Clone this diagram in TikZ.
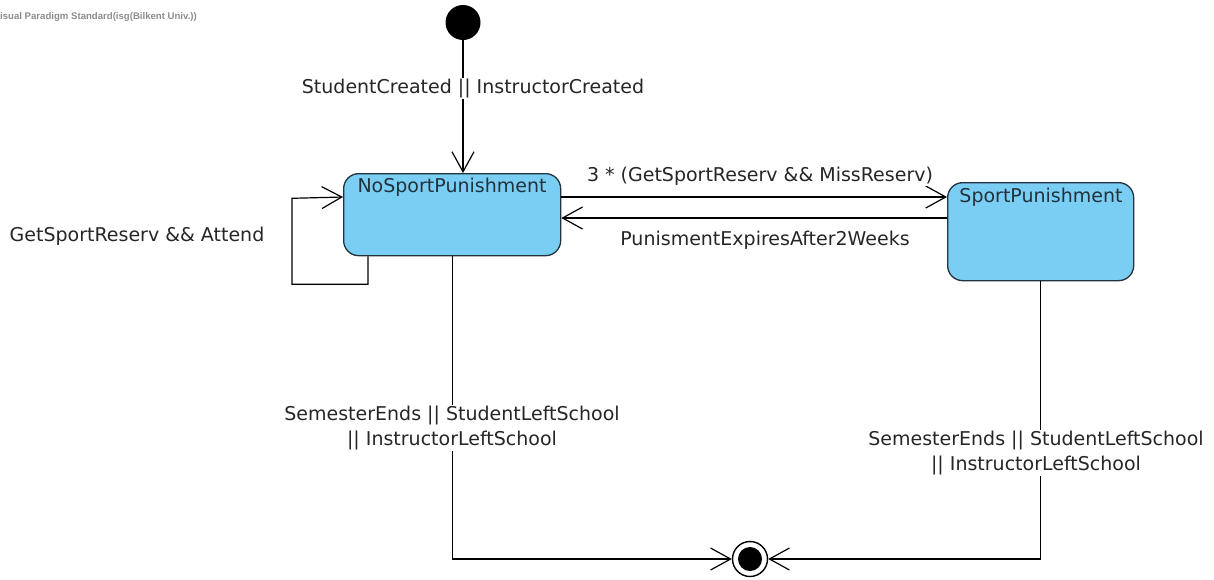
\documentclass[tikz,border=0pt]{standalone}
\usepackage{fontspec}
\setmainfont{DejaVu Sans}
\newfontfamily\markfont{Liberation Sans}
\usetikzlibrary{arrows.meta}
\definecolor{statefill}{HTML}{7ACEF3}
\definecolor{stateline}{HTML}{22323E}
\definecolor{labeltext}{HTML}{262626}
\definecolor{marktext}{HTML}{8C8C8C}
\tikzset{
  statebox/.style={draw=stateline, line width=1.3pt, fill=statefill,
    rounded corners=15pt, inner sep=0pt, anchor=north west},
  statename/.style={text=stateline, font=\fontsize{19}{23}\selectfont, anchor=base, inner sep=0pt},
  trans/.style={draw=black, line width=1.2pt, -{Straight Barb[length=20pt,width=22pt,line width=1.2pt]}},
  guard/.style={fill=white, text=labeltext, inner sep=1pt, align=center,
    font=\fontsize{19}{25}\selectfont},
}
\begin{document}
\begin{tikzpicture}[x=1pt,y=-1pt]
\useasboundingbox (0,0) rectangle (1214,579);

% tool watermark
\node[anchor=west, inner sep=0pt, text=marktext, font=\markfont\bfseries\fontsize{9.6}{12}\selectfont] (mark) at (0,17) {isual Paradigm Standard(isg(Bilkent Univ.))};

% states
\node[statebox, minimum width=217pt, minimum height=82pt] (ns) at (343,173) {};
\node[statename] (nsname) at (452,192) {NoSportPunishment};
\node[statebox, minimum width=186pt, minimum height=98pt] (sp) at (947,182) {};
\node[statename] (spname) at (1041,202) {SportPunishment};

% pseudo states
\node[circle, fill=black, minimum size=35pt, inner sep=0pt] (init) at (463,22.5) {};
\node[circle, draw=black, line width=1.4pt, fill=white, minimum size=35pt, inner sep=0pt] (fin) at (750,559) {};
\node[circle, fill=black, minimum size=24pt, inner sep=0pt] (finc) at (fin) {};

% helper rows for the parallel transitions
\coordinate (upper) at (0,197);
\coordinate (lower) at (0,218);

% transitions
\draw[trans] (init.south) -- (init.south |- ns.north);
\draw[trans] (ns.east |- upper) -- (sp.west |- upper);
\draw[trans] (sp.west |- lower) -- (ns.east |- lower);
\draw[trans] ([xshift=25pt]ns.south west) -- ++(0,28) -- ++(-76,0) -- ++(0,-86) -- ([yshift=-24pt]ns.north west);
\draw[trans] (ns.south) |- (fin.west);
\draw[trans] (sp.south) |- (fin.east);

% guards
\node[guard] (g1) at (473,88) {StudentCreated || InstructorCreated};
\node[guard] (g2) at (760,176) {3 * (GetSportReserv \&\& MissReserv)};
\node[guard] (g3) at (765,240) {PunismentExpiresAfter2Weeks};
\node[guard] (g4) at (137,236) {GetSportReserv \&\& Attend};
\node[guard] (g5) at (452,427.5) {SemesterEnds || StudentLeftSchool\\|| InstructorLeftSchool};
\node[guard] (g6) at (1036,452.5) {SemesterEnds || StudentLeftSchool\\|| InstructorLeftSchool};
\end{tikzpicture}
\end{document}
